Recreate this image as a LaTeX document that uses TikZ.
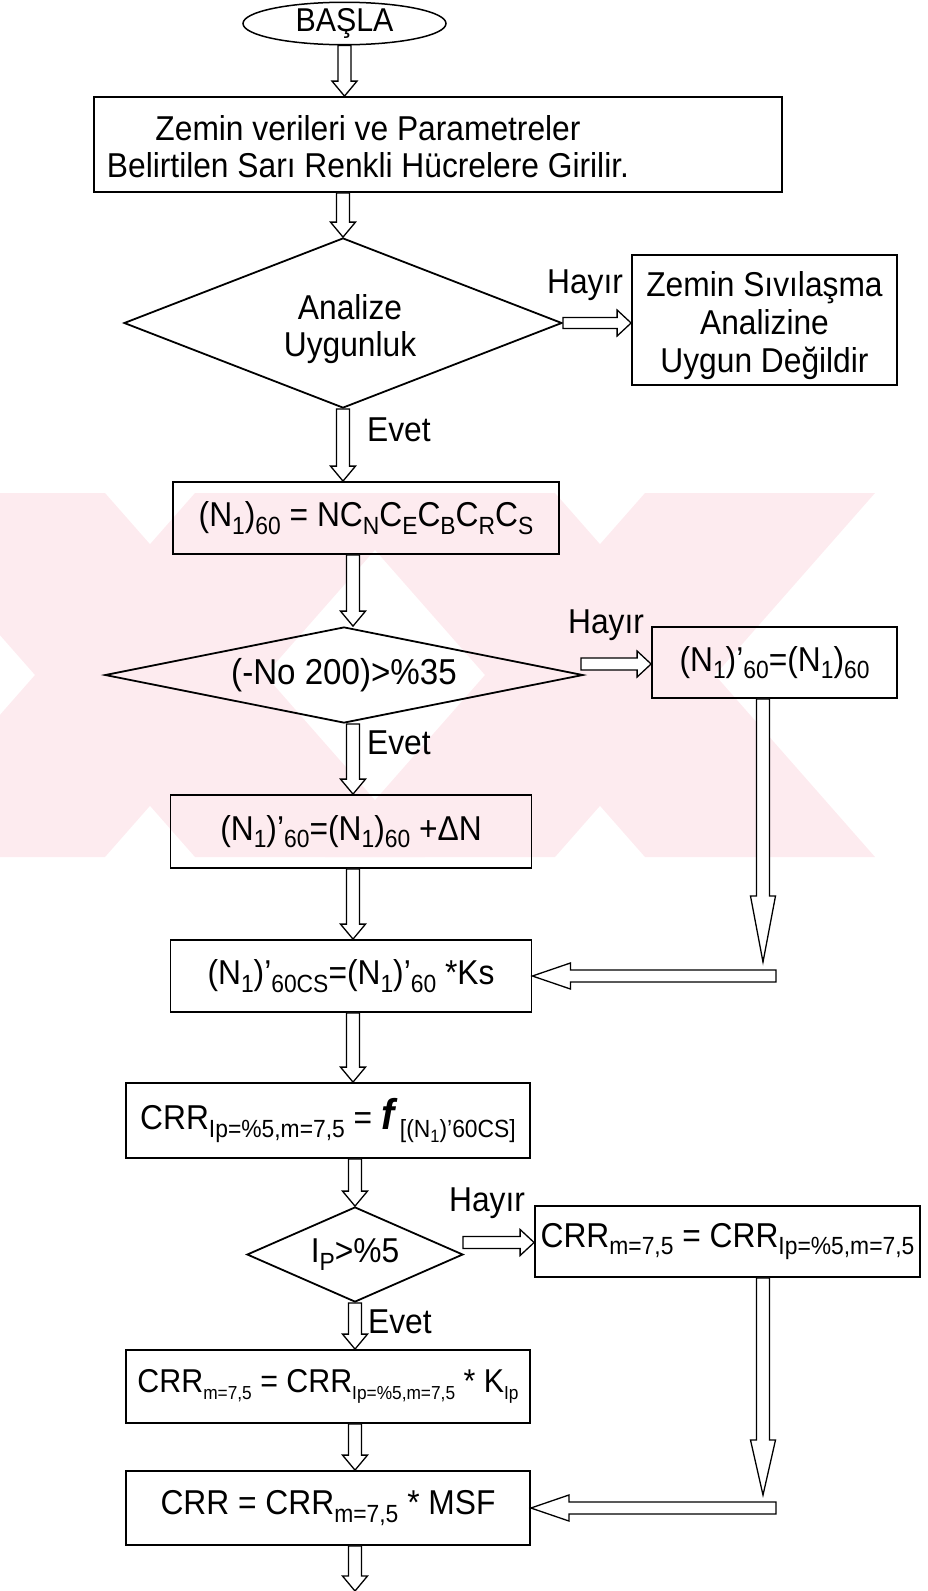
\documentclass[tikz,border=0pt]{standalone}
\usepackage{fontspec}
\setmainfont{Liberation Sans}[FakeStretch=0.92]
\usetikzlibrary{calc,shapes.geometric}
\definecolor{wmpink}{RGB}{253,235,239}
\makeatletter
\newcommand\subr{0.72}
\newcommand\sbs[1]{\raisebox{-0.22em}{\fontsize{\fpeval{\subr*\f@size}}{0}\selectfont #1}}
\makeatother
\tikzset{
  aw/.store in=\arrW, ahw/.store in=\arrHW, ahl/.store in=\arrHL,
  aw=6.5, ahw=12.5, ahl=15,
  hollow/.style={draw, fill=white, line width=1.3pt, line join=miter,
    to path={
      ($(\tikztostart)!\arrW pt!90:(\tikztotarget)$)
      -- ($(\tikztotarget)!\arrHL pt!(\tikztostart)!\arrW pt!90:(\tikztotarget)$)
      -- ($(\tikztotarget)!\arrHL pt!(\tikztostart)!\arrHW pt!90:(\tikztotarget)$)
      -- (\tikztotarget)
      -- ($(\tikztotarget)!\arrHL pt!(\tikztostart)!\arrHW pt!-90:(\tikztotarget)$)
      -- ($(\tikztotarget)!\arrHL pt!(\tikztostart)!\arrW pt!-90:(\tikztotarget)$)
      -- ($(\tikztostart)!\arrW pt!-90:(\tikztotarget)$)
      -- cycle}},
  box/.style={draw, line width=1.8pt, rectangle, inner sep=0pt, align=center},
  dia/.style={draw, line width=1.8pt, diamond, inner sep=0pt, align=center},
  term/.style={draw, line width=1.5pt, ellipse, inner sep=0pt},
  lbl/.style={inner sep=0pt, align=center},
}
\begin{document}
\begin{tikzpicture}[x=1pt,y=-1pt,font=\fontsize{34.5}{37}\selectfont]
\useasboundingbox (0,0) rectangle (928,1591);
% watermark
\begin{scope}
\clip (0,493) rectangle (928,857);
\fill[wmpink] (-125,493) -- (105,493) -- (425,857) -- (195,857) -- cycle;
\fill[wmpink] (195,493) -- (425,493) -- (105,857) -- (-125,857) -- cycle;
\fill[wmpink] (325,493) -- (555,493) -- (875,857) -- (645,857) -- cycle;
\fill[wmpink] (645,493) -- (875,493) -- (555,857) -- (325,857) -- cycle;
\end{scope}
% nodes
\node[term, minimum width=203pt, minimum height=37pt, font=\fontsize{33}{33}\selectfont] (start) at (344.5,23.5) {BAŞLA};
\node[box, minimum width=688pt, minimum height=95pt] (b1) at (438,144.5) {};
\node[lbl] (t1) at (368,147) {Zemin verileri ve Parametreler\\Belirtilen Sarı Renkli Hücrelere Girilir.};
\node[dia, minimum width=438pt, minimum height=170pt, shape aspect=2.5] (d1) at (343,323) {};
\node[lbl] (td1) at (350,329) {Analize\\Uygunluk};
\node[lbl] (h1) at (585,285) {Hayır};
\node[box, minimum width=265pt, minimum height=130pt] (b2) at (764.5,320) {};
\node[lbl, font=\fontsize{34.5}{38}\selectfont] (t2) at (764.5,326) {Zemin Sıvılaşma\\Analizine\\Uygun Değildir};
\node[lbl, anchor=west] (e1) at (367,430) {Evet};
\node[box, minimum width=386pt, minimum height=72pt] (b3) at (366,518) {(N\sbs{1})\sbs{60} = NC\sbs{N}C\sbs{E}C\sbs{B}C\sbs{R}C\sbs{S}};
\node[dia, minimum width=478pt, minimum height=96pt, shape aspect=5, font=\fontsize{36}{40}\selectfont] (d2) at (344,675) {(-No 200)>\%35};
\node[lbl] (h2) at (606,625) {Hayır};
\node[box, minimum width=245pt, minimum height=71pt] (b4) at (774.5,662.5) {(N\sbs{1})’\sbs{60}=(N\sbs{1})\sbs{60}};
\node[lbl, anchor=west] (e2) at (367,743) {Evet};
\node[box, minimum width=361pt, minimum height=73pt] (b5) at (351,831.5) {(N\sbs{1})’\sbs{60}=(N\sbs{1})\sbs{60} +ΔN};
\node[box, minimum width=361pt, minimum height=72pt] (b6) at (351,976) {(N\sbs{1})’\sbs{60CS}=(N\sbs{1})’\sbs{60} *Ks};
\node[box, minimum width=404pt, minimum height=75pt] (b7) at (328,1120.5) {CRR\sbs{Ip=\%5,m=7,5} = {\fontsize{43}{43}\selectfont\bfseries\itshape f}\,\sbs{[(N\sbs{1})’60CS]}};
\node[dia, minimum width=216pt, minimum height=95pt, shape aspect=2.3] (d3) at (355,1254.5) {I\sbs{P}>\%5};
\node[lbl] (h3) at (487,1203) {Hayır};
\node[box, minimum width=385pt, minimum height=71pt] (b8) at (727.5,1241.5) {CRR\sbs{m=7,5} = CRR\sbs{Ip=\%5,m=7,5}};
\node[lbl, anchor=west] (e3) at (368,1322) {Evet};
\node[box, minimum width=404pt, minimum height=73pt, font=\fontsize{33}{37}\selectfont] (b9) at (328,1386.5) {\renewcommand\subr{0.57}CRR\sbs{m=7,5} = CRR\sbs{Ip=\%5,m=7,5} * K\sbs{Ip}};
\node[box, minimum width=404pt, minimum height=74pt] (b10) at (328,1508) {CRR = CRR\sbs{m=7,5} * MSF};
% coordinates
\coordinate (c2) at (353,0);
\coordinate (h2s) at ($(d2.east)+(-3,-11)$);
\coordinate (v1e) at (763,962);
\coordinate (h1s) at (776,976);
\coordinate (h3s) at ($(d3.east)+(-1,-12)$);
\coordinate (v2e) at (763,1495);
\coordinate (h4s) at (776,1508);
\coordinate (endc) at (355,1591);
% connectors
\draw[hollow] (start.south) to (start.south |- b1.north);
\draw[hollow] (b1.south -| d1.north) to (d1.north);
\draw[hollow, aw=5.5, ahw=13, ahl=14] (d1.east) to (d1.east -| b2.west);
\draw[hollow] (d1.south) to (d1.south |- b3.north);
\draw[hollow] (b3.south -| c2) to (d2.north -| c2);
\draw[hollow, aw=6, ahw=13, ahl=14] (h2s) to (h2s -| b4.west);
\draw[hollow] (d2.south -| c2) to (b5.north -| c2);
\draw[hollow] (b5.south -| c2) to (b6.north -| c2);
\draw[hollow, ahl=66] (b4.south -| v1e) to (v1e);
\draw[hollow, aw=6, ahw=13, ahl=38] (h1s) to (h1s -| b6.east);
\draw[hollow] (b6.south -| c2) to (b7.north -| c2);
\draw[hollow] (b7.south -| d3.north) to (d3.north);
\draw[hollow, aw=6, ahw=13, ahl=14] (h3s) to (h3s -| b8.west);
\draw[hollow] (d3.south) to (d3.south |- b9.north);
\draw[hollow] (b9.south -| d3.south) to (b10.north -| d3.south);
\draw[hollow, ahl=55] (b8.south -| v2e) to (v2e);
\draw[hollow, aw=6, ahw=13, ahl=38] (h4s) to (h4s -| b10.east);
\draw[hollow] (b10.south -| d3.south) to (endc);
\end{tikzpicture}
\end{document}
